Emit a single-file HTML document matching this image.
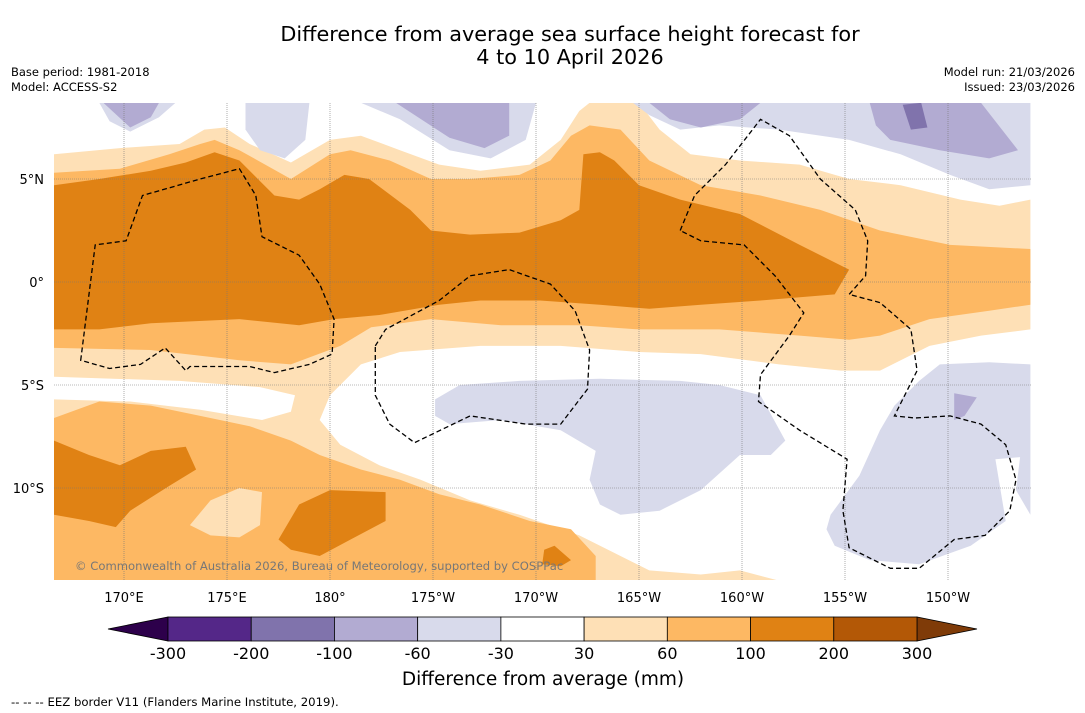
<!DOCTYPE html>
<html><head><meta charset="utf-8"><style>
body{margin:0;background:#fff;font-family:"DejaVu Sans","Liberation Sans",sans-serif;}
svg{display:block;font-family:"DejaVu Sans","Liberation Sans",sans-serif;}
</style></head><body>
<svg id="c" width="1085" height="713" viewBox="0 0 1085 713">
<rect x="0" y="0" width="1085" height="713" fill="#fff"/>
<text x="570" y="41" text-anchor="middle" font-size="20.8">Difference from average sea surface height forecast for</text>
<text x="570" y="64" text-anchor="middle" font-size="20.8">4 to 10 April 2026</text>
<text x="11" y="76" font-size="11.5">Base period: 1981-2018</text>
<text x="11" y="91" font-size="11.5">Model: ACCESS-S2</text>
<text x="1075" y="76" font-size="11.5" text-anchor="end">Model run: 21/03/2026</text>
<text x="1075" y="91" font-size="11.5" text-anchor="end">Issued: 23/03/2026</text>
<defs><clipPath id="mc"><rect x="54" y="103" width="977" height="477"/></clipPath></defs>
<g id="map" clip-path="url(#mc)"></g>
<g id="axes"></g>
<g id="cbar"></g>
<text x="543" y="685" text-anchor="middle" font-size="18.5">Difference from average (mm)</text>
<text x="11" y="706" font-size="11.7">--  --  -- EEZ border V11 (Flanders Marine Institute, 2019).</text>
</svg>
<script>
const lonTicks=[170,175,180,185,190,195,200,205,210];
const lonLabels=["170°E","175°E","180°","175°W","170°W","165°W","160°W","155°W","150°W"];
const latTicks=[5,0,-5,-10];
const latLabels=["5°N","0°","5°S","10°S"];
const cbLevels=[-300,-200,-100,-60,-30,30,60,100,200,300];
const cbColors=["#542788","#8073ac","#b2abd2","#d8daeb","#ffffff","#fee0b6","#fdb863","#e08214","#b35806"];
const lo30=[[166.6,6.2],[169.8,6.5],[172.7,6.7],[173.9,7.4],[174.9,7.5],[176.1,6.7],[178.1,5.8],[180.0,6.9],[181.5,7.1],[183.4,6.4],[185.3,5.7],[187.3,5.4],[189.7,5.7],[191.2,6.9],[192.1,8.3],[192.6,8.7],[195.0,8.7],[196.0,7.4],[197.5,6.2],[199.9,5.9],[202.8,5.7],[205.2,5.0],[207.7,4.7],[210.6,4.0],[212.5,3.7],[214.0,4.0],[214.0,-2.3],[211.6,-2.6],[209.1,-3.1],[206.7,-4.3],[204.8,-4.3],[201.8,-4.0],[198.0,-3.5],[195.0,-3.4],[191.2,-3.1],[187.3,-3.1],[183.4,-3.4],[181.5,-4.0],[180.0,-5.5],[179.5,-6.7],[180.5,-7.9],[182.4,-8.9],[184.4,-9.6],[186.8,-10.6],[189.2,-11.3],[192.1,-12.3],[194.1,-13.3],[195.5,-14.0],[198.0,-14.2],[199.9,-14.0],[201.8,-14.5],[166.6,-14.5]];
const whiteL=[[166.6,-4.6],[172.7,-4.8],[176.6,-5.1],[178.3,-5.5],[178.1,-6.3],[176.7,-6.7],[173.7,-6.2],[170.3,-5.8],[166.6,-5.7]];
const o60a=[[166.6,5.3],[169.8,5.5],[172.2,6.2],[173.7,6.7],[174.4,6.9],[175.6,6.4],[178.1,5.0],[180.0,6.2],[181.0,6.4],[182.9,5.9],[184.9,5.0],[186.8,5.0],[189.2,5.2],[190.7,5.9],[191.7,7.1],[192.6,7.6],[194.1,7.4],[195.5,5.9],[198.0,4.7],[200.9,4.2],[203.8,3.5],[206.7,2.5],[210.1,1.8],[214.0,1.6],[214.0,-1.1],[212.0,-1.4],[209.1,-1.8],[206.7,-2.6],[205.2,-2.8],[202.8,-2.6],[198.9,-2.3],[195.0,-2.3],[192.1,-2.1],[188.3,-2.1],[184.9,-1.8],[182.0,-2.2],[180.5,-3.1],[178.1,-4.0],[175.6,-3.8],[171.3,-3.3],[166.6,-3.2]];
const o60b=[[166.6,-6.6],[168.8,-5.8],[171.3,-6.0],[173.7,-6.5],[176.1,-7.0],[178.1,-7.7],[179.5,-8.4],[181.5,-9.1],[183.4,-9.6],[185.3,-10.3],[187.3,-10.8],[189.7,-11.6],[191.7,-12.0],[192.9,-13.3],[192.9,-14.5],[166.6,-14.5]];
const loBlob=[[173.2,-11.8],[174.2,-10.6],[175.6,-10.0],[176.7,-10.2],[176.6,-11.8],[175.6,-12.4],[174.2,-12.3]];
const o100a=[[166.6,4.7],[168.8,5.0],[171.3,5.4],[173.0,5.8],[174.4,6.3],[175.6,5.9],[177.3,4.2],[178.5,4.0],[179.5,4.5],[180.7,5.2],[181.9,5.0],[183.9,3.5],[184.9,2.5],[186.8,2.3],[189.2,2.4],[191.2,3.0],[192.1,3.5],[192.3,6.2],[193.1,6.3],[193.8,5.9],[195.0,4.7],[197.0,4.0],[199.9,3.3],[202.8,1.8],[205.2,0.6],[204.5,-0.6],[200.9,-0.9],[198.0,-1.1],[195.5,-1.3],[193.1,-1.1],[190.2,-0.9],[187.3,-0.9],[185.3,-1.1],[182.4,-1.6],[180.2,-1.8],[178.5,-2.1],[175.6,-1.8],[171.3,-2.0],[168.8,-2.3],[166.6,-2.3]];
const o100b=[[166.6,-7.7],[168.3,-8.4],[169.8,-8.9],[171.3,-8.2],[173.0,-8.0],[173.5,-9.1],[172.2,-9.9],[170.3,-11.1],[169.6,-11.9],[168.3,-11.6],[166.6,-11.3]];
const o100c=[[177.5,-12.5],[178.5,-10.8],[180.0,-10.1],[182.7,-10.2],[182.7,-11.6],[181.0,-12.5],[179.5,-13.3],[178.1,-13.0]];
const o100d=[[190.4,-13.0],[190.9,-12.8],[191.7,-13.5],[191.2,-13.8],[190.3,-13.7]];
const pA=[[168.8,8.7],[172.5,8.7],[171.7,8.0],[170.3,7.3],[169.3,7.8]];
const pB=[[175.9,8.7],[179.0,8.7],[178.8,6.9],[177.8,6.0],[176.6,6.4],[175.9,7.4]];
const pC=[[181.5,8.7],[190.0,8.7],[189.5,6.9],[187.8,6.0],[185.8,6.4],[183.4,7.9]];
const pD=[[194.7,8.7],[214.0,8.7],[214.0,4.7],[212.0,4.5],[210.1,5.2],[207.7,6.2],[205.2,6.9],[201.8,7.4],[198.9,7.6],[197.0,7.4],[195.5,8.1]];
const pE=[[185.1,-5.7],[186.3,-5.0],[189.2,-4.8],[193.1,-4.7],[197.0,-4.8],[198.9,-5.0],[200.9,-5.5],[202.1,-7.7],[201.4,-8.4],[199.9,-8.4],[198.0,-10.1],[196.0,-11.1],[194.1,-11.3],[193.1,-10.8],[192.6,-9.6],[192.9,-8.2],[191.2,-7.2],[188.3,-6.7],[185.8,-6.9],[185.1,-6.5]];
const pF=[[204.3,-11.3],[205.7,-9.4],[206.7,-7.2],[207.4,-6.0],[208.6,-4.8],[209.6,-4.0],[212.0,-3.9],[214.0,-4.0],[214.0,-11.3],[213.3,-10.1],[213.5,-8.5],[212.3,-8.6],[212.8,-11.6],[211.1,-12.8],[208.6,-13.7],[206.2,-13.5],[204.5,-12.8],[204.1,-12.0]];
const pA2=[[169.0,8.7],[171.7,8.7],[171.3,8.0],[170.3,7.5]];
const pC2=[[183.2,8.7],[188.7,8.7],[188.7,7.1],[187.5,6.5],[185.8,7.0]];
const pD2=[[195.5,8.7],[200.9,8.7],[199.9,7.9],[198.0,7.5],[196.5,7.9]];
const pD3=[[206.2,8.7],[211.6,8.7],[213.4,6.4],[212.0,6.0],[209.6,6.4],[207.2,6.9],[206.5,7.6]];
const pF2=[[210.3,-5.4],[211.4,-5.6],[210.8,-6.5],[210.3,-6.7]];
const pDark=[[207.8,8.6],[208.7,8.7],[209.0,7.5],[208.2,7.4]];
const eez1=[[167.9,-3.8],[168.6,1.8],[170.1,2.0],[170.9,4.2],[173.7,5.0],[175.6,5.5],[176.4,4.2],[176.7,2.2],[178.5,1.3],[179.5,-0.1],[180.2,-1.8],[180.1,-3.5],[179.0,-4.0],[177.3,-4.4],[176.1,-4.1],[173.2,-4.1],[173.0,-4.3],[172.0,-3.2],[170.8,-4.0],[169.3,-4.2],[167.9,-3.8]];
const eez2=[[182.2,-3.1],[182.7,-2.3],[185.3,-0.9],[186.8,0.3],[188.7,0.6],[190.7,-0.1],[191.9,-1.4],[192.6,-3.3],[192.5,-5.2],[191.2,-6.9],[189.5,-6.9],[186.8,-6.5],[184.1,-7.8],[182.9,-6.9],[182.2,-5.5],[182.2,-3.1]];
const eez3=[[197.0,2.5],[197.7,4.2],[199.2,5.7],[200.9,7.9],[202.3,7.1],[203.8,5.0],[205.5,3.5],[206.1,2.0],[206.0,0.3],[205.2,-0.6],[206.7,-1.0],[208.2,-2.3],[208.5,-4.3],[207.4,-6.5],[208.4,-6.6],[210.1,-6.5],[211.6,-6.9],[212.8,-7.9],[213.3,-9.6],[213.0,-11.1],[211.8,-12.3],[210.3,-12.5],[208.6,-13.9],[207.2,-13.9],[205.2,-12.9],[204.9,-11.1],[205.1,-8.6],[202.8,-7.2],[200.8,-5.8],[200.9,-4.5],[202.3,-2.6],[203.0,-1.5],[201.6,0.3],[200.1,1.8],[198.0,2.0],[197.0,2.5]];

const NS='http://www.w3.org/2000/svg';
const PX=20.6;
function xOf(lon){return 124+(lon-170)*PX;}
function yOf(lat){return 282-lat*PX;}
function pathOf(pts,close){
  let d='';
  for(let i=0;i<pts.length;i++){
    const px=xOf(pts[i][0]);
    const py=yOf(pts[i][1]);
    d+=(i?'L':'M')+px.toFixed(1)+','+py.toFixed(1);
  }
  return d+(close?'Z':'');
}
const map=document.getElementById('map');
function poly(pts,fill,name){
  const p=document.createElementNS(NS,'path');
  p.setAttribute('d',pathOf(pts,true));
  p.setAttribute('fill',fill);
  p.setAttribute('stroke','none');
  
  
  map.appendChild(p);
}
poly(lo30,'#fee0b6','contour-30-60');
poly(whiteL,'#ffffff','contour-neutral-west');
poly(o60a,'#fdb863','contour-60-100-north');
poly(o60b,'#fdb863','contour-60-100-south');
poly(loBlob,'#fee0b6','contour-30-60-south');
poly(o100a,'#e08214','contour-100-200-equator');
poly(o100b,'#e08214','contour-100-200-west');
poly(o100c,'#e08214','contour-100-200-south');
poly(o100d,'#e08214','contour-100-200-small');
[pA,pB,pC,pD,pE,pF].forEach(function(s){poly(s,'#d8daeb','contour-minus-30-60');});
[pA2,pC2,pD2,pD3,pF2].forEach(function(s){poly(s,'#b2abd2','contour-minus-60-100');});
poly(pDark,'#8073ac','contour-minus-100-200');

lonTicks.forEach(function(lon){
  const l=document.createElementNS(NS,'line');
  l.setAttribute('x1',xOf(lon));l.setAttribute('x2',xOf(lon));
  l.setAttribute('y1',103);l.setAttribute('y2',580);
  l.setAttribute('stroke','#777');l.setAttribute('stroke-width','0.6');l.setAttribute('stroke-dasharray','1,1');
  
  
  map.appendChild(l);
});
latTicks.forEach(function(lat){
  const l=document.createElementNS(NS,'line');
  l.setAttribute('x1',54);l.setAttribute('x2',1031);
  l.setAttribute('y1',yOf(lat));l.setAttribute('y2',yOf(lat));
  l.setAttribute('stroke','#777');l.setAttribute('stroke-width','0.6');l.setAttribute('stroke-dasharray','1,1');
  
  
  map.appendChild(l);
});
[eez1,eez2,eez3].forEach(function(s){
  const p=document.createElementNS(NS,'path');
  p.setAttribute('d',pathOf(s,true));
  p.setAttribute('fill','none');p.setAttribute('stroke','#000');
  p.setAttribute('stroke-width','1.3');p.setAttribute('stroke-dasharray','5,3');
  
  
  map.appendChild(p);
});
const cp=document.createElementNS(NS,'text');
cp.setAttribute('x',75);cp.setAttribute('y',570);cp.setAttribute('font-size','11.6');cp.setAttribute('fill','#777');
cp.textContent='© Commonwealth of Australia 2026, Bureau of Meteorology, supported by COSPPac';


map.appendChild(cp);

const axes=document.getElementById('axes');
lonTicks.forEach(function(lon,i){
  const t=document.createElementNS(NS,'text');
  t.setAttribute('x',xOf(lon));t.setAttribute('y',602);t.setAttribute('text-anchor','middle');t.setAttribute('font-size','13');
  t.textContent=lonLabels[i];
  
  
  axes.appendChild(t);
});
latTicks.forEach(function(lat,i){
  const t=document.createElementNS(NS,'text');
  t.setAttribute('x',44);t.setAttribute('y',yOf(lat)+5);t.setAttribute('text-anchor','end');t.setAttribute('font-size','13');
  t.textContent=latLabels[i];
  
  
  axes.appendChild(t);
});

const cb=document.getElementById('cbar');
const cbX0=168,cbX1=917,cbY=617,cbH=24;
const segW=(cbX1-cbX0)/cbColors.length;
function cbx(i){return cbX0+i*segW;}
const lt=document.createElementNS(NS,'polygon');
lt.setAttribute('points',(cbX0-60)+','+(cbY+cbH/2)+' '+cbX0+','+cbY+' '+cbX0+','+(cbY+cbH));
lt.setAttribute('fill','#2d004b');lt.setAttribute('stroke','#000');lt.setAttribute('stroke-width','0.8');


cb.appendChild(lt);
const rt=document.createElementNS(NS,'polygon');
rt.setAttribute('points',(cbX1+60)+','+(cbY+cbH/2)+' '+cbX1+','+cbY+' '+cbX1+','+(cbY+cbH));
rt.setAttribute('fill','#7f3b08');rt.setAttribute('stroke','#000');rt.setAttribute('stroke-width','0.8');


cb.appendChild(rt);
cbColors.forEach(function(c,i){
  const r=document.createElementNS(NS,'rect');
  r.setAttribute('x',cbx(i));r.setAttribute('y',cbY);r.setAttribute('width',segW);r.setAttribute('height',cbH);
  r.setAttribute('fill',c);r.setAttribute('stroke','#000');r.setAttribute('stroke-width','0.8');
  
  
  cb.appendChild(r);
});
cbLevels.forEach(function(v,i){
  const t=document.createElementNS(NS,'text');
  t.setAttribute('x',cbx(i));t.setAttribute('y',659);t.setAttribute('text-anchor','middle');t.setAttribute('font-size','16');
  t.textContent=String(v);
  
  
  cb.appendChild(t);
});
</script>
</body></html>
